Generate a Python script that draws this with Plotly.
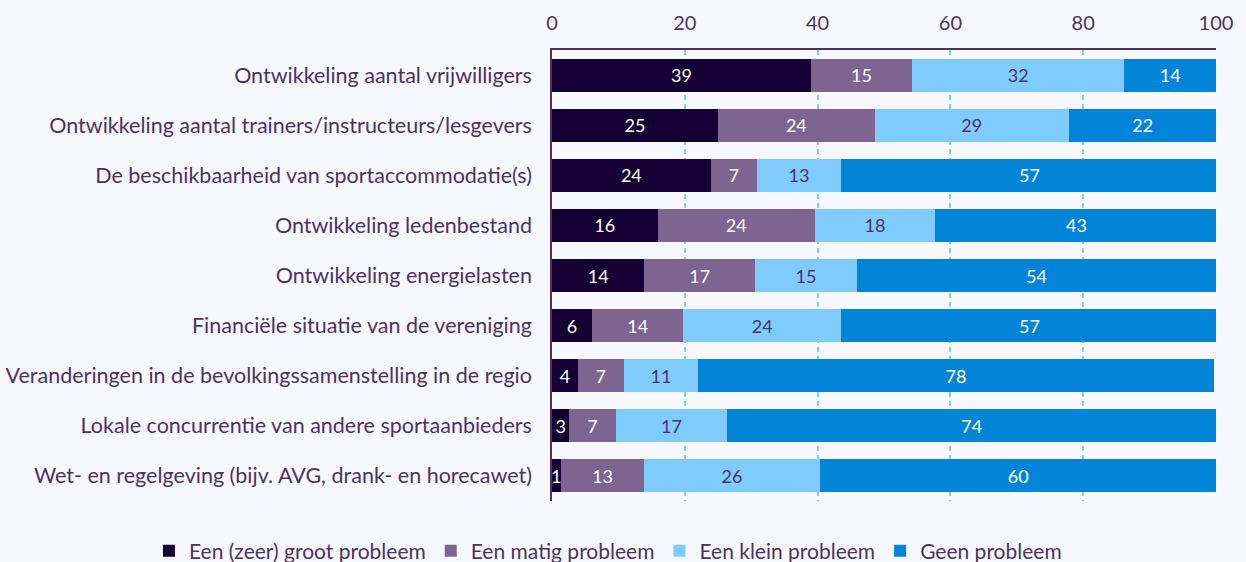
import plotly.graph_objects as go

categories = [
    "Ontwikkeling aantal vrijwilligers",
    "Ontwikkeling aantal trainers/instructeurs/lesgevers",
    "De beschikbaarheid van sportaccommodatie(s)",
    "Ontwikkeling ledenbestand",
    "Ontwikkeling energielasten",
    "Financiële situatie van de vereniging",
    "Veranderingen in de bevolkingssamenstelling in de regio",
    "Lokale concurrentie van andere sportaanbieders",
    "Wet- en regelgeving (bijv. AVG, drank- en horecawet)",
]
series_names = ["Een (zeer) groot probleem", "Een matig probleem", "Een klein probleem", "Geen probleem"]
groot = [39.0, 25.0, 23.9, 15.9, 13.9, 6.0, 3.9, 2.6, 1.3]
matig = [15.2, 23.6, 7.0, 23.7, 16.7, 13.8, 6.9, 7.0, 12.6]
klein = [32.0, 29.2, 12.6, 18.1, 15.3, 23.7, 11.2, 16.8, 26.4]
geen = [13.8, 22.3, 56.8, 42.6, 54.1, 56.8, 77.7, 73.6, 59.8]
x_ticks = [0, 20, 40, 60, 80, 100]

colors = ["#150033", "#7e6490", "#7fcbfd", "#0285d9"]
text_colors = ["#ffffff", "#ffffff", "#4b3366", "#ffffff"]
txt = "#4b3366"

fig = go.Figure()
for name, vals, c, tc in zip(series_names, [groot, matig, klein, geen], colors, text_colors):
    fig.add_trace(go.Bar(
        y=categories, x=vals, name=name, orientation="h",
        marker=dict(color=c, line=dict(width=0)),
        text=[f"{round(v):d}" for v in vals],
        textposition="inside", insidetextanchor="middle",
        textfont=dict(color=tc, size=18, family="Lato"),
        constraintext="none", width=0.66,
    ))

fig.update_layout(
    barmode="stack",
    width=1246, height=562,
    paper_bgcolor="#f6f8fd", plot_bgcolor="#f6f8fd",
    font=dict(family="Lato", color=txt, size=21),
    margin=dict(l=552, r=30, t=50, b=61, autoexpand=False),
    uniformtext=dict(minsize=18, mode="show"),
    showlegend=True,
    legend=dict(
        orientation="h", xref="paper", yref="paper",
        x=-0.607, xanchor="left", y=-0.111, yanchor="middle",
        font=dict(size=21, color=txt), traceorder="normal",
        itemwidth=30, bgcolor="rgba(0,0,0,0)",
    ),
    xaxis=dict(
        side="top", range=[0, 100], tickvals=x_ticks,
        showgrid=True, gridcolor="#7fcbfd", griddash="5px,4px", gridwidth=1.5,
        showline=True, linecolor="#4b3366", linewidth=2,
        zeroline=False, ticks="", tickfont=dict(size=20, color=txt),
        ticklabelstandoff=10,
    ),
    yaxis=dict(
        autorange="reversed", showline=True, linecolor="#4b3366", linewidth=1.5,
        ticks="", tickfont=dict(size=21.5, color=txt), ticklabelstandoff=14,
        showgrid=False,
    ),
)

fig.write_html("out.html", config={"displayModeBar": False},
               post_script="document.body.style.margin='0';")
